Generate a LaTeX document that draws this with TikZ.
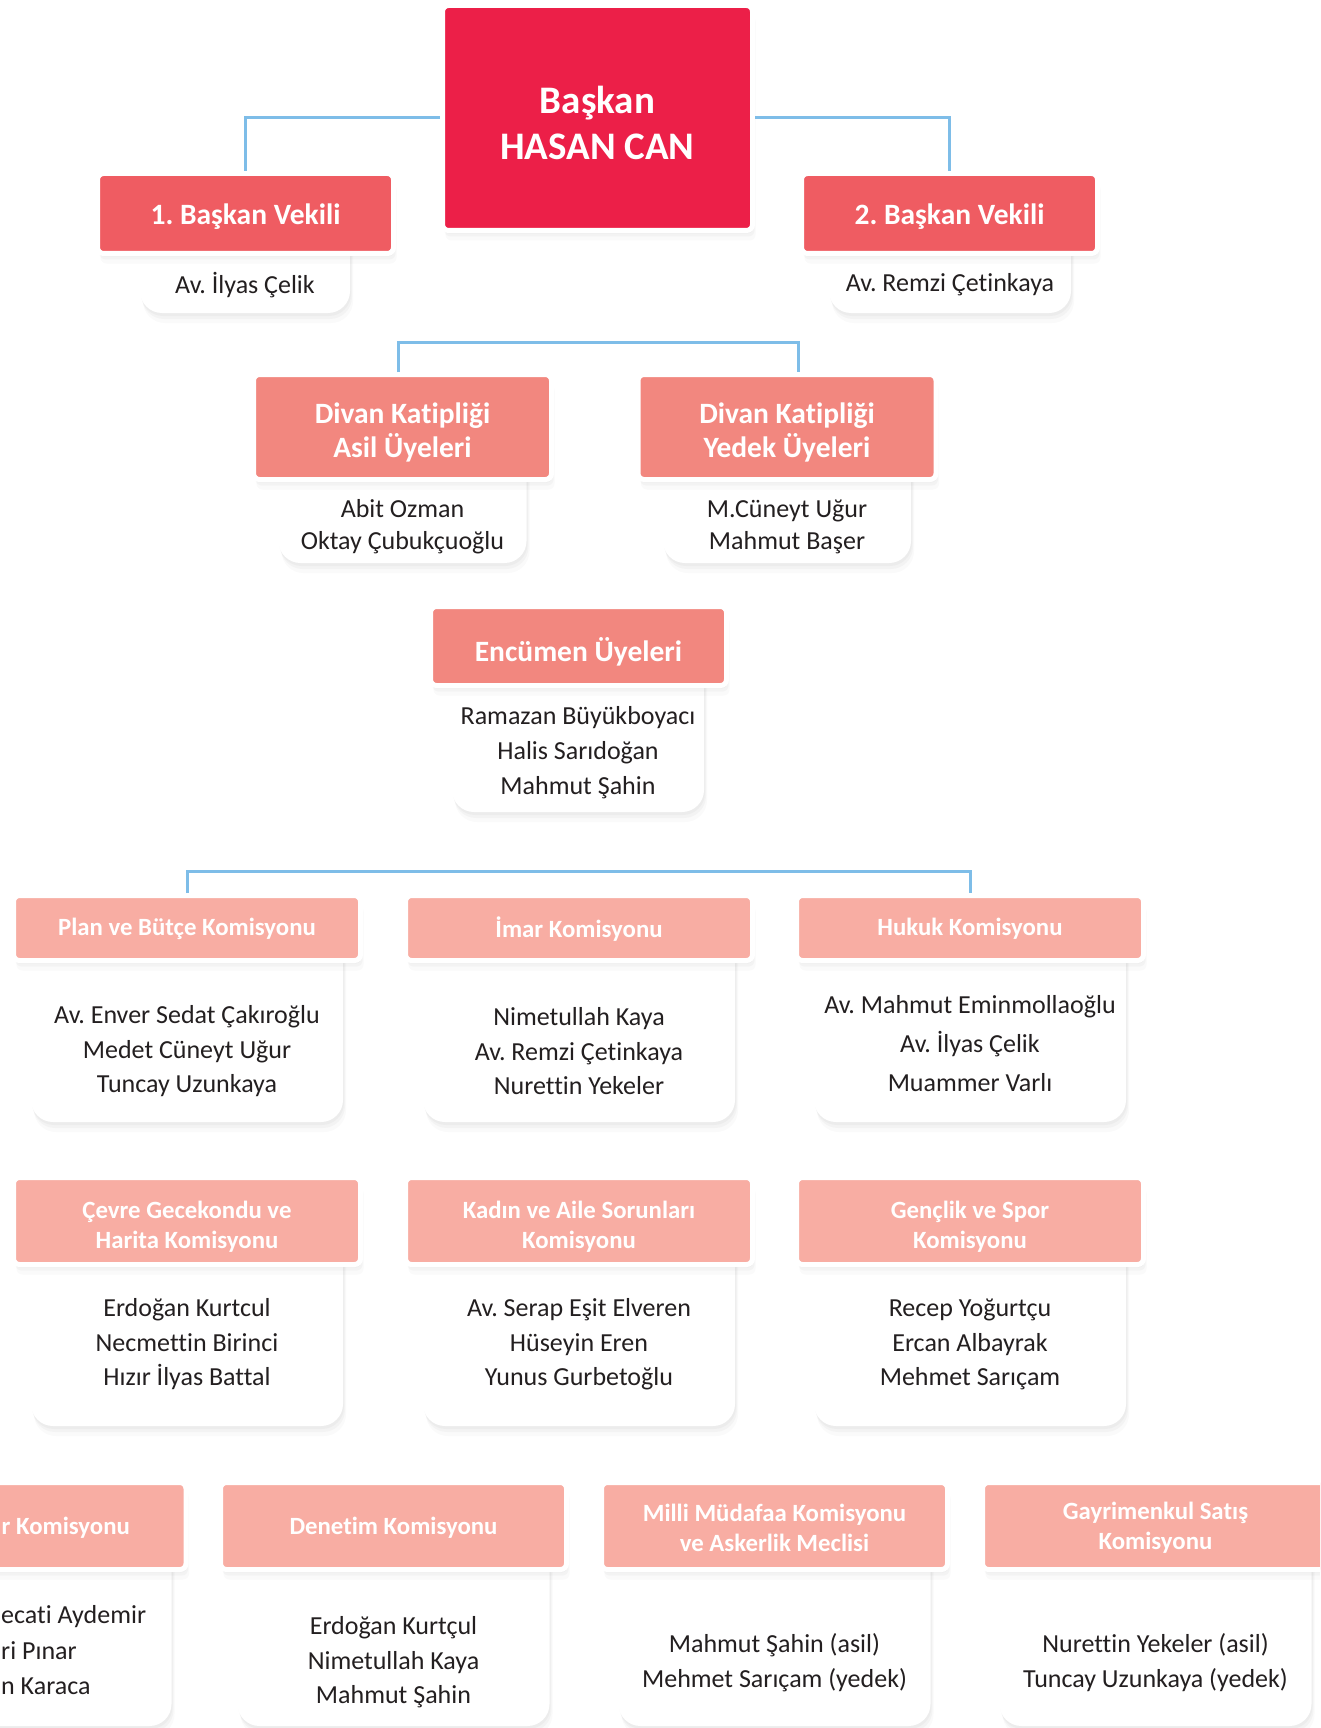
\documentclass[tikz,border=0pt]{standalone}
\usepackage{fontspec}
\setmainfont{Carlito}[Ligatures=NoCommon]
\frenchspacing
\usetikzlibrary{shadows}
\definecolor{baskanrenk}{RGB}{236,31,72}
\definecolor{vekilrenk}{RGB}{239,92,98}
\definecolor{divanrenk}{RGB}{242,135,127}
\definecolor{komrenk}{RGB}{248,173,163}
\definecolor{hatmavi}{RGB}{126,189,232}
\definecolor{yazi}{RGB}{35,31,32}
\begin{document}
\begin{tikzpicture}[x=1pt,y=-1pt,
	golge/.style={drop shadow={shadow xshift=1pt,shadow yshift=-3pt,opacity=.05},
		drop shadow={shadow xshift=2pt,shadow yshift=-6pt,opacity=.05},
		drop shadow={shadow xshift=3pt,shadow yshift=-10pt,opacity=.04}},
	baslik/.style={draw=white,line width=5pt,rounded corners=6pt,inner sep=0pt,golge},
	basyazi/.style={text=white,align=center,inner sep=0pt},
	govde/.style={fill=white,rounded corners=22pt,inner sep=0pt,golge},
	uye/.style={text=yazi,align=center,inner sep=0pt,font={\fontsize{26}{34.5}\selectfont}},
	hat/.style={draw=hatmavi,line width=3pt}]
	\def\bbfont{\bfseries\fontsize{29.5}{34}\selectfont}
	\def\kbfont{\bfseries\fontsize{24.8}{30}\selectfont}
	\useasboundingbox (0,0) rectangle (1320,1728);
	\clip (0,0) rectangle (1320,1728);
	\fill[white] (0,0) rectangle (1320,1728);
	
	\node[baslik,fill=baskanrenk,minimum width=310pt,minimum height=225pt] (baskan) at (597.5,118) {};
	\node[basyazi,font={\bfseries\fontsize{39}{46}\selectfont}] (baskan-b) at (597.5,122.5) {Başkan\\HASAN CAN};
	
	\node[govde,minimum width=210pt,minimum height=100pt] (vekil1-g) at (245,263) {};
	\node[baslik,fill=vekilrenk,minimum width=296pt,minimum height=80pt] (vekil1) at (245.5,213.5) {};
	\node[basyazi,font=\bbfont] (vekil1-b) at (245.5,217) {1. Başkan Vekili};
	\node[uye] (vekil1-u) at (245,285) {Av. İlyas Çelik};
	\node[govde,minimum width=242pt,minimum height=100pt] (vekil2-g) at (950,263) {};
	\node[baslik,fill=vekilrenk,minimum width=296pt,minimum height=80pt] (vekil2) at (949.5,213.5) {};
	\node[basyazi,font=\bbfont] (vekil2-b) at (949.5,217) {2. Başkan Vekili};
	\node[uye] (vekil2-u) at (950,285) {Av. Remzi Çetinkaya};
	\draw[hat] (vekil1.north) |- (baskan.west);
	\draw[hat] (vekil2.north) |- (baskan.east);
	
	\foreach \ad/\x/\bas/\uyeler in {asil/402.5/{Divan Katipliği\\Asil Üyeleri}/{Abit Ozman\\Oktay Çubukçuoğlu},
		yedek/787/{Divan Katipliği\\Yedek Üyeleri}/{M.Cüneyt Uğur\\Mahmut Başer}}{
		\node[govde,minimum width=248pt,minimum height=136pt] (\ad-g) at (\x,495) {};
		\node[baslik,fill=divanrenk,minimum width=298pt,minimum height=105pt] (\ad) at (\x,427) {};
		\node[basyazi,font=\bbfont] (\ad-b) at (\x,432.5) {\bas};
		\node[uye,font={\fontsize{26}{32}\selectfont}] (\ad-u) at (\x,527) {\uyeler};
	}
	\path (398,342) coordinate (d1) (798,342) coordinate (d2);
	\draw[hat] (asil.north -| d1) -- (d1) -- (d2) -- (yedek.north -| d2);
	
	\node[govde,minimum width=252pt,minimum height=166pt] (encumen-g) at (578,729) {};
	\node[baslik,fill=divanrenk,minimum width=296pt,minimum height=79pt] (encumen) at (578.5,646) {};
	\node[basyazi,font=\bbfont] (encumen-b) at (578.5,651.5) {Encümen Üyeleri};
	\node[uye,font={\fontsize{26}{35}\selectfont}] (encumen-u) at (578,752.5) {Ramazan Büyükboyacı\\Halis Sarıdoğan\\Mahmut Şahin};
	
	\foreach \ad/\x/\bas/\uyeler/\y in {plan/187/{Plan ve Bütçe Komisyonu}/{Av. Enver Sedat Çakıroğlu\\Medet Cüneyt Uğur\\Tuncay Uzunkaya}/1051.5,
		imar/579/{İmar Komisyonu}/{Nimetullah Kaya\\Av. Remzi Çetinkaya\\Nurettin Yekeler}/1051.5,
		hukuk/970/{Hukuk Komisyonu}/{Av. Mahmut Eminmollaoğlu\\[4.5pt]Av. İlyas Çelik\\[4.5pt]Muammer Varlı}/1044}{
		\node[govde,minimum width=312pt,minimum height=194pt] (\ad-g) at (\x,1025) {};
		\node[baslik,fill=komrenk,minimum width=347pt,minimum height=65pt] (\ad) at (\x,928) {};
		\node[basyazi,font=\kbfont] (\ad-b) at (\x,929) {\bas};
		\node[uye] (\ad-u) at (\x,\y) {\uyeler};
	}
	\path (579,871) coordinate (k);
	\draw[hat] (plan.north) |- (k) -| (hukuk.north);
	
	\foreach \ad/\x/\bas/\uyeler in {cevre/187/{Çevre Gecekondu ve\\Harita Komisyonu}/{Erdoğan Kurtcul\\Necmettin Birinci\\Hızır İlyas Battal},
		kadin/579/{Kadın ve Aile Sorunları\\Komisyonu}/{Av. Serap Eşit Elveren\\Hüseyin Eren\\Yunus Gurbetoğlu},
		genclik/970/{Gençlik ve Spor\\Komisyonu}/{Recep Yoğurtçu\\Ercan Albayrak\\Mehmet Sarıçam}}{
		\node[govde,minimum width=312pt,minimum height=205pt] (\ad-g) at (\x,1323.5) {};
		\node[baslik,fill=komrenk,minimum width=347pt,minimum height=87pt] (\ad) at (\x,1221) {};
		\node[basyazi,font=\kbfont] (\ad-b) at (\x,1226.5) {\bas};
		\node[uye] (\ad-u) at (\x,1344.5) {\uyeler};
	}
	
	\foreach \ad/\x/\bas/\uyeler in {denetim/393.5/{Denetim Komisyonu}/{Erdoğan Kurtçul\\Nimetullah Kaya\\Mahmut Şahin},
		milli/774.5/{Milli Müdafaa Komisyonu\\ve Askerlik Meclisi}/{Mahmut Şahin (asil)\\Mehmet Sarıçam (yedek)},
		gayri/1155.5/{Gayrimenkul Satış\\Komisyonu}/{Nurettin Yekeler (asil)\\Tuncay Uzunkaya (yedek)}}{
		\node[govde,minimum width=312pt,minimum height=200pt] (\ad-g) at (\x,1626) {};
		\node[baslik,fill=komrenk,minimum width=346pt,minimum height=87pt] (\ad) at (\x,1526) {};
		\node[basyazi,font=\kbfont] (\ad-b) at (\x,1528) {\bas};
		\node[uye] (\ad-u) at (\x,1662.5) {\uyeler};
	}
	\node[govde,minimum width=312pt,minimum height=200pt] (kesik-g) at (15.5,1626) {};
	\node[baslik,fill=komrenk,minimum width=346pt,minimum height=87pt] (kesik) at (13,1526) {};
	\node[basyazi,anchor=west,font=\kbfont] (kesik-b) at (1.5,1528) {r Komisyonu};
	\node[uye,anchor=west] (kesik-u1) at (1,1617) {ecati Aydemir};
	\node[uye,anchor=west] (kesik-u2) at (1,1651) {ri Pınar};
	\node[uye,anchor=west] (kesik-u3) at (1,1686) {n Karaca};
\end{tikzpicture}
\end{document}
